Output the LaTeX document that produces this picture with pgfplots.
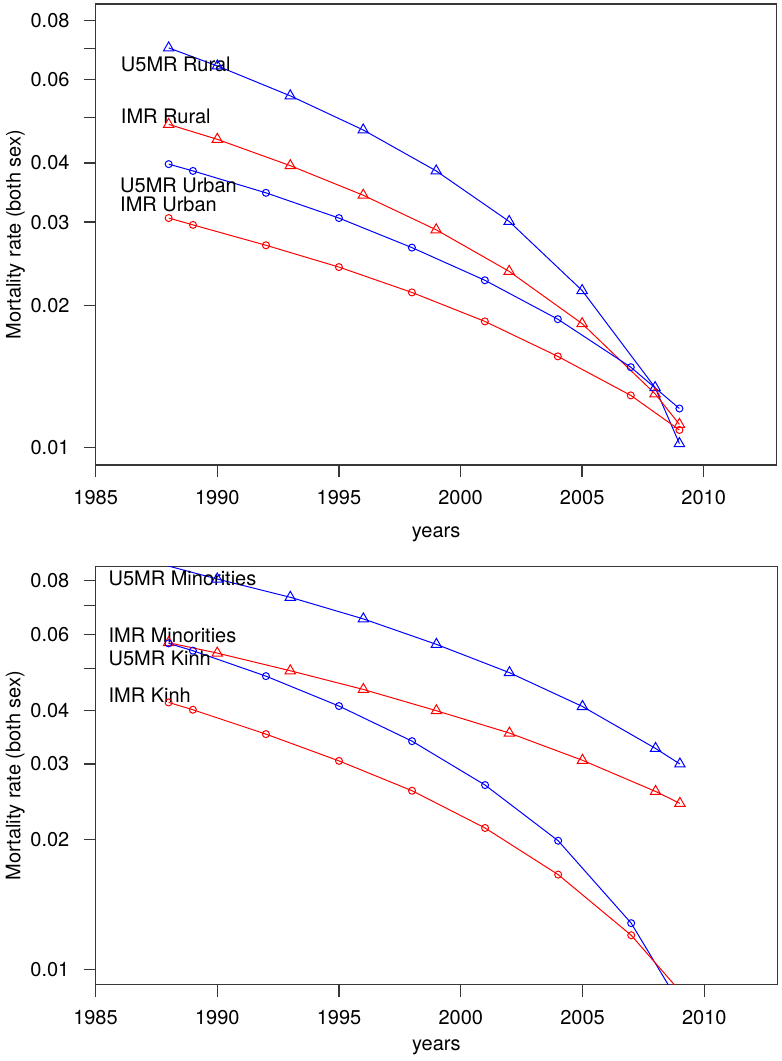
\documentclass[border=0pt]{standalone}
\usepackage{fontspec}
\setmainfont{TeX Gyre Heros}
\usepackage{pgfplots}
\pgfplotsset{compat=1.18}
\definecolor{rblue}{RGB}{0,0,255}
\definecolor{rred}{RGB}{255,0,0}
\definecolor{boxgray}{RGB}{55,55,55}
\newcommand{\fs}{\fontsize{20}{24}\selectfont}
\pgfplotsset{
  myaxis/.style={
    scale only axis, anchor=south west,
    xmin=1985, xmax=2013,
    xtick={1985,1990,1995,2000,2005,2010},
    xticklabels={1985,1990,1995,2000,2005,2010},
    ytick={0.01,0.02,0.03,0.04,0.05,0.06,0.07,0.08},
    yticklabels={0.01,0.02,0.03,0.04,,0.06,,0.08},
    minor tick num=0, yminorticks=false, xminorticks=false,
    tick pos=left,
    tick align=outside, major tick length=12pt,
    axis line style={boxgray, line width=1.3pt},
    every tick/.style={boxgray, line width=1.3pt},
    tick label style={font=\fs, text=black},
    xticklabel style={anchor=north, inner sep=0pt, yshift=-13pt},
    yticklabel style={anchor=east, inner sep=0pt, xshift=-14pt},
    xlabel={years}, ylabel={Mortality rate (both sex)},
    every axis x label/.style={at={(axis description cs:0.5,-0.158)}, anchor=base, font=\fs},
    every axis y label/.style={at={(axis description cs:-0.1101,0.5)}, rotate=90, anchor=base, font=\fs},
  },
  tri/.style={line width=1pt, mark=triangle, mark size=6pt, mark options={solid, line width=1pt}},
  circ/.style={line width=1pt, mark=o, mark size=3.5pt, mark options={solid, line width=1pt}},
}
\begin{document}
\begin{tikzpicture}[x=1pt,y=1pt]
\useasboundingbox (0,0) rectangle (782,1061);
% ---------------- top panel ----------------
\begin{semilogyaxis}[myaxis, at={(95.7pt,596pt)}, width=681pt, height=461pt, ymin=0.00919, ymax=0.0868]
\addplot[tri, rblue] coordinates {(1988,0.0701)(1990,0.0642)(1993,0.0555)(1996,0.0470)(1999,0.0385)(2002,0.0301)(2005,0.0215)(2008,0.0134)(2009,0.0102)};
\addplot[tri, rred] coordinates {(1988,0.0483)(1990,0.0449)(1993,0.0395)(1996,0.0342)(1999,0.0289)(2002,0.0236)(2005,0.0183)(2008,0.0130)(2009,0.0112)};
\addplot[circ, rblue] coordinates {(1988,0.0398)(1989,0.0385)(1992,0.0346)(1995,0.0306)(1998,0.0265)(2001,0.0226)(2004,0.0187)(2007,0.0148)(2009,0.0121)};
\addplot[circ, rred] coordinates {(1988,0.0306)(1989,0.0296)(1992,0.0268)(1995,0.0241)(1998,0.0213)(2001,0.0185)(2004,0.0156)(2007,0.0129)(2009,0.0109)};
\node[anchor=base west, font=\fs, inner sep=0pt] at (axis cs:1986.03,0.0624) {U5MR Rural};
\node[anchor=base west, font=\fs, inner sep=0pt] at (axis cs:1986.03,0.0484) {IMR Rural};
\node[anchor=base west, font=\fs, inner sep=0pt] at (axis cs:1986.0,0.03468) {U5MR Urban};
\node[anchor=base west, font=\fs, inner sep=0pt] at (axis cs:1986.0,0.03162) {IMR Urban};
\end{semilogyaxis}
% ---------------- bottom panel ----------------
\begin{semilogyaxis}[myaxis, at={(95.5pt,76.3pt)}, width=681.8pt, height=418pt, ymin=0.00921, ymax=0.0862]
\addplot[tri, rblue] coordinates {(1988,0.0865)(1990,0.0807)(1993,0.0732)(1996,0.0652)(1999,0.0569)(2002,0.0489)(2005,0.0408)(2008,0.0326)(2009,0.0300)};
\addplot[tri, rred] coordinates {(1988,0.0574)(1990,0.0543)(1993,0.0494)(1996,0.0447)(1999,0.0399)(2002,0.0354)(2005,0.0306)(2008,0.0259)(2009,0.0243)};
\addplot[circ, rblue] coordinates {(1988,0.0572)(1989,0.0550)(1992,0.0480)(1995,0.0409)(1998,0.0339)(2001,0.0268)(2004,0.0199)(2007,0.0128)(2009,0.0083)};
\addplot[circ, rred] coordinates {(1988,0.0417)(1989,0.0401)(1992,0.0352)(1995,0.0305)(1998,0.0260)(2001,0.0213)(2004,0.0166)(2007,0.0120)(2009,0.0089)};
\node[anchor=base west, font=\fs, inner sep=0pt] at (axis cs:1985.53,0.0779) {U5MR Minorities};
\node[anchor=base west, font=\fs, inner sep=0pt] at (axis cs:1985.53,0.0575) {IMR Minorities};
\node[anchor=base west, font=\fs, inner sep=0pt] at (axis cs:1985.53,0.0508) {U5MR Kinh};
\node[anchor=base west, font=\fs, inner sep=0pt] at (axis cs:1985.53,0.0417) {IMR Kinh};
\end{semilogyaxis}
\end{tikzpicture}
\end{document}
